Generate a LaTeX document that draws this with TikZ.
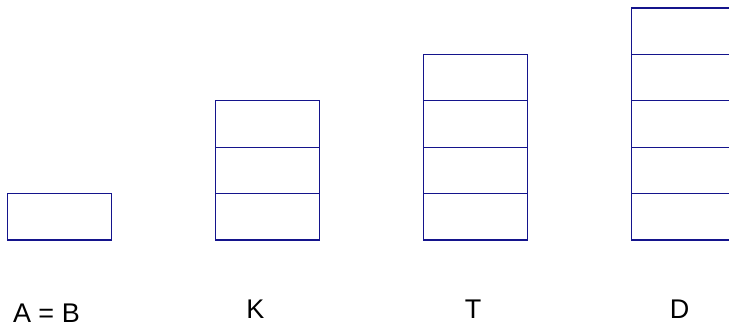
\documentclass[tikz,border=0pt]{standalone}
\usepackage{fontspec}
\setmainfont{Liberation Sans}
\definecolor{boxblue}{RGB}{20,20,140}
\begin{document}
\begin{tikzpicture}[x=1pt,y=-1pt,
  cell/.style={draw=boxblue,line width=1.2pt,minimum width=103.5pt,minimum height=46.4pt,inner sep=0pt,outer sep=0pt,anchor=north west},
  lbl/.style={font=\fontsize{27}{27}\selectfont,anchor=base,inner sep=0pt}]
\useasboundingbox (0,0) rectangle (729,325);
\clip (0,0) rectangle (729,325);
% A = B
\node[cell] (a1) at (7.7,193.6) {};
% K
\node[cell] (k1) at (215.7,193.6) {};
\node[cell] (k2) at (215.7,147.2) {};
\node[cell] (k3) at (215.7,100.8) {};
% T
\node[cell] (t1) at (423.7,193.6) {};
\node[cell] (t2) at (423.7,147.2) {};
\node[cell] (t3) at (423.7,100.8) {};
\node[cell] (t4) at (423.7,54.4) {};
% D
\node[cell] (d1) at (631.7,193.6) {};
\node[cell] (d2) at (631.7,147.2) {};
\node[cell] (d3) at (631.7,100.8) {};
\node[cell] (d4) at (631.7,54.4) {};
\node[cell] (d5) at (631.7,8) {};
% labels
\node[lbl] (la) at (46.4,322) {A = B};
\node[lbl] (lk) at (255.5,318.5) {K};
\node[lbl] (lt) at (473,318.5) {T};
\node[lbl] (ld) at (679.5,318.5) {D};
\end{tikzpicture}
\end{document}
